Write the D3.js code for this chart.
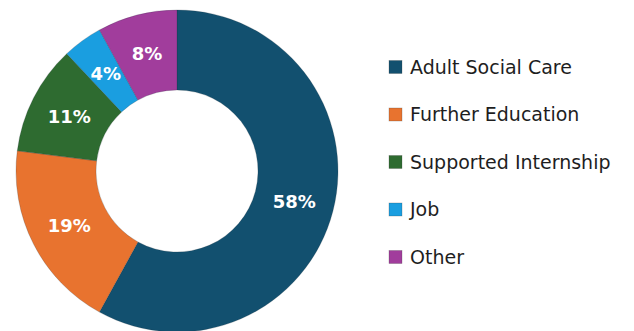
<!DOCTYPE html>
<html>
<head>
<meta charset="utf-8">
<script src="https://cdn.jsdelivr.net/npm/d3@7"></script>
<style>
  body { margin: 0; background: #fff; }
</style>
</head>
<body>
<script>
// data
let categories = ["Adult Social Care", "Further Education", "Supported Internship", "Job", "Other"];
let shares = [58, 19, 11, 4, 8];
let colours = ["#12506f", "#e8732f", "#2e6b30", "#1a9ee0", "#a13d9c"];

let canvas = d3.select("body")
            .append("svg")
            .attr("width", 634)
            .attr("height", 331);

let cx = 177, cy = 171;
let outerR = 161, innerR = 81;

let pie = d3.pie().sort(null).value(d => d.value);
let arc = d3.arc().innerRadius(innerR).outerRadius(outerR);
let labelArc = d3.arc().innerRadius(121).outerRadius(121);

let slices = pie(categories.map((c, i) => ({name: c, value: shares[i], colour: colours[i]})));

let donut = canvas.append("g")
            .attr("transform", `translate(${cx},${cy})`);

donut.selectAll("path")
    .data(slices)
    .enter()
    .append("path")
    .attr("d", arc)
    .attr("fill", d => d.data.colour)
    .attr("stroke", "#1d2a33")
    .attr("stroke-opacity", 0.35)
    .attr("stroke-width", 0.6);

donut.selectAll("text")
    .data(slices)
    .enter()
    .append("text")
    .attr("transform", d => `translate(${labelArc.centroid(d)})`)
    .attr("text-anchor", "middle")
    .attr("dy", "0.36em")
    .attr("fill", "#fff")
    .attr("font-family", "'DejaVu Sans', sans-serif")
    .attr("font-weight", "bold")
    .attr("font-size", 18)
    .text(d => d.data.value + "%");

// legend
let legendY = d3.scalePoint()
            .domain(categories)
            .range([67, 257]);

let legend = canvas.append("g");

let rows = legend.selectAll("g")
            .data(categories)
            .enter()
            .append("g")
            .attr("transform", d => `translate(389,${legendY(d)})`);

rows.append("rect")
    .attr("x", 0)
    .attr("y", -6.5)
    .attr("width", 13)
    .attr("height", 13)
    .attr("fill", (d, i) => colours[i])
    .attr("stroke", "#333")
    .attr("stroke-opacity", 0.4)
    .attr("stroke-width", 0.6);

rows.append("text")
    .attr("x", 21)
    .attr("dy", "0.36em")
    .attr("font-family", "'DejaVu Sans', sans-serif")
    .attr("font-size", 19)
    .attr("fill", "#1e1e1e")
    .text(d => d);
</script>
</body>
</html>
